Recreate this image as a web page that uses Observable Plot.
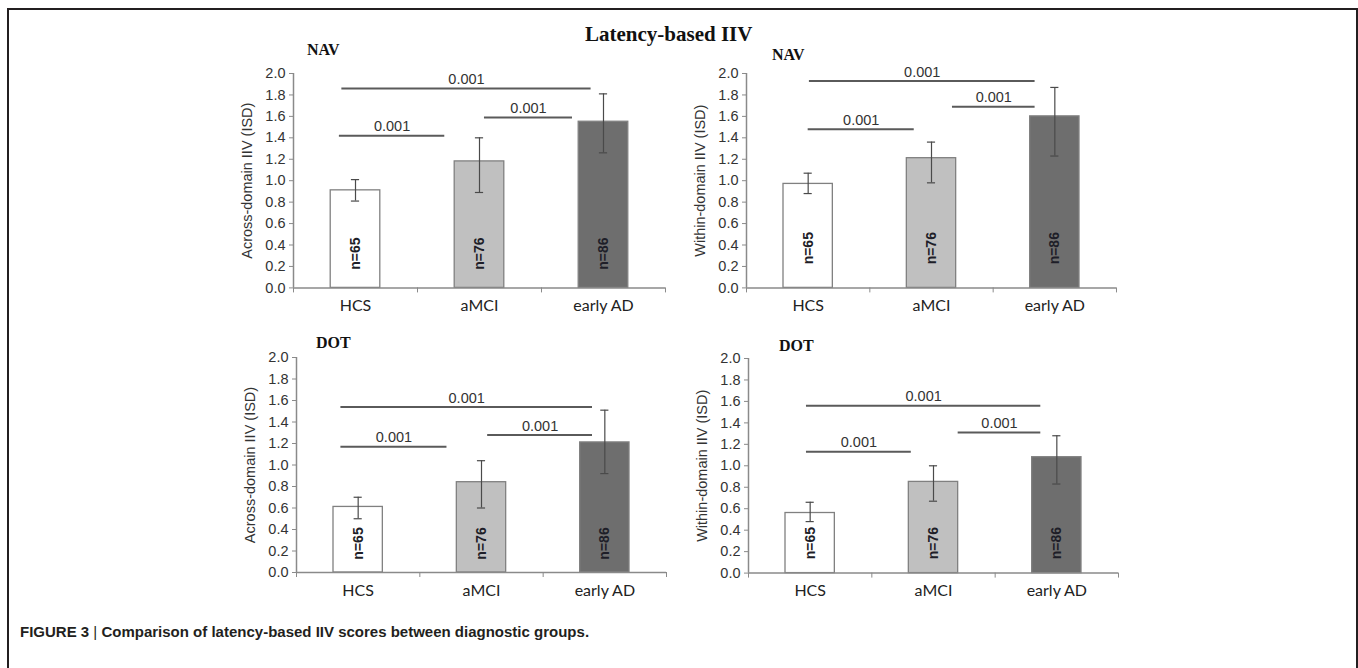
<!DOCTYPE html>
<html><head><meta charset="utf-8">
<script src="https://cdn.jsdelivr.net/npm/d3@7"></script>
<script src="https://cdn.jsdelivr.net/npm/@observablehq/plot@0.6"></script>
<style>
html,body{margin:0;padding:0;background:#fff;}
#root{position:relative;width:1358px;height:668px;overflow:hidden;background:#fff;}
.frame{position:absolute;left:7px;top:8px;width:1351px;height:720px;border:2px solid #231f20;box-sizing:border-box;}
.abs{position:absolute;white-space:nowrap;line-height:1;}
.ptitle{font-family:"Liberation Serif","Times New Roman",serif;font-weight:bold;font-size:16px;color:#111;}
.mtitle{font-family:"Liberation Serif","Times New Roman",serif;font-weight:bold;font-size:21px;color:#111;}
.caption{font-family:"Liberation Sans",Arial,sans-serif;font-weight:bold;font-size:15px;color:#231f20;}
.panel{position:absolute;}
</style>
</head><body>
<div id="root"><div class="frame"></div></div>
<script>
// ---- data ----
const groups = ["HCS", "aMCI", "early AD"];
const sampleSizes = ["n=65", "n=76", "n=86"];
const barFills = ["#ffffff", "#c0c0c0", "#6e6e6e"];
const yTicks = [0, 0.2, 0.4, 0.6, 0.8, 1.0, 1.2, 1.4, 1.6, 1.8, 2.0];
const pValueLabel = "0.001";

// NAV, across-domain
const navAcrossMean = [0.91, 1.18, 1.55];
const navAcrossLow  = [0.81, 0.89, 1.26];
const navAcrossHigh = [1.01, 1.40, 1.81];
const navAcrossBracketFrom = [-0.13, -0.11, 1.04];
const navAcrossBracketTo   = [0.72, 1.90, 1.75];
const navAcrossBracketY    = [1.42, 1.86, 1.59];

// NAV, within-domain
const navWithinMean = [0.97, 1.21, 1.60];
const navWithinLow  = [0.88, 0.98, 1.23];
const navWithinHigh = [1.07, 1.36, 1.87];
const navWithinBracketFrom = [0.00, 0.01, 1.17];
const navWithinBracketTo   = [0.86, 1.84, 1.84];
const navWithinBracketY    = [1.48, 1.93, 1.69];

// DOT, across-domain
const dotAcrossMean = [0.61, 0.84, 1.21];
const dotAcrossLow  = [0.50, 0.60, 0.92];
const dotAcrossHigh = [0.70, 1.04, 1.51];
const dotAcrossBracketFrom = [-0.14, -0.14, 1.05];
const dotAcrossBracketTo   = [0.72, 1.90, 1.90];
const dotAcrossBracketY    = [1.17, 1.54, 1.28];

// DOT, within-domain
const dotWithinMean = [0.56, 0.85, 1.08];
const dotWithinLow  = [0.48, 0.67, 0.83];
const dotWithinHigh = [0.66, 1.00, 1.28];
const dotWithinBracketFrom = [-0.03, -0.03, 1.20];
const dotWithinBracketTo   = [0.82, 1.87, 1.87];
const dotWithinBracketY    = [1.13, 1.56, 1.31];

// ---- layout ----
const panels = [
  {title: "NAV", yLabel: "Across-domain IIV (ISD)", mean: navAcrossMean, low: navAcrossLow, high: navAcrossHigh,
   bFrom: navAcrossBracketFrom, bTo: navAcrossBracketTo, bY: navAcrossBracketY,
   left: 293, right: 665, top: 73.3, bottom: 287.7, nY: 0.32, titleX: 307, titleTop: 41.6},
  {title: "NAV", yLabel: "Within-domain IIV (ISD)", mean: navWithinMean, low: navWithinLow, high: navWithinHigh,
   bFrom: navWithinBracketFrom, bTo: navWithinBracketTo, bY: navWithinBracketY,
   left: 746, right: 1116, top: 73.3, bottom: 287.7, nY: 0.37, titleX: 772, titleTop: 46.6},
  {title: "DOT", yLabel: "Across-domain IIV (ISD)", mean: dotAcrossMean, low: dotAcrossLow, high: dotAcrossHigh,
   bFrom: dotAcrossBracketFrom, bTo: dotAcrossBracketTo, bY: dotAcrossBracketY,
   left: 296, right: 666, top: 356.7, bottom: 571.7, nY: 0.27, titleX: 316, titleTop: 335},
  {title: "DOT", yLabel: "Within-domain IIV (ISD)", mean: dotWithinMean, low: dotWithinLow, high: dotWithinHigh,
   bFrom: dotWithinBracketFrom, bTo: dotWithinBracketTo, bY: dotWithinBracketY,
   left: 748, right: 1118, top: 357.7, bottom: 572.3, nY: 0.28, titleX: 779, titleTop: 338.3}
];

const root = document.getElementById("root");
const ML = 90, MT = 50, MR = 20, MB = 40;

for (const p of panels) {
  const rows = groups.map((g, i) => ({i, g, mean: p.mean[i], low: p.low[i], high: p.high[i], n: sampleSizes[i], fill: barFills[i], ny: p.nY}));
  const brackets = p.bY.map((y, k) => ({from: p.bFrom[k], to: p.bTo[k], y}));
  const W = (p.right - p.left) + ML + MR;
  const H = (p.bottom - p.top) + MT + MB;
  const chart = Plot.plot({
    width: W, height: H,
    marginLeft: ML, marginTop: MT, marginRight: MR, marginBottom: MB,
    x: {domain: [-0.5, 2.5], axis: null},
    y: {domain: [0, 2], axis: null},
    color: {type: "identity"},
    style: {background: "transparent", fontFamily: "'Liberation Sans', Arial, sans-serif", fontSize: "14px", overflow: "visible"},
    marks: [
      Plot.axisY({ticks: yTicks, tickFormat: d => d.toFixed(1), tickSize: 4, tickPadding: 4,
        stroke: "#8a8a8a", fill: "#333", fontSize: 14.5,
        label: p.yLabel, labelAnchor: "center", labelArrow: "none", labelOffset: 52}),
      Plot.axisX({ticks: [-0.5, 0.5, 1.5, 2.5], tickSize: 5, tickFormat: () => "", stroke: "#8a8a8a", label: null}),
      Plot.axisX({ticks: [0, 1, 2], tickSize: 0, tickPadding: 12, tickFormat: i => groups[i],
        fill: "#222", fontSize: 16, fontFamily: "Lato, 'Open Sans', sans-serif", label: null}),
      Plot.rect(rows, {x1: d => d.i - 0.2, x2: d => d.i + 0.2, y1: 0, y2: "mean", fill: "fill", stroke: "#808080", strokeWidth: 1.3}),
      Plot.ruleX(rows, {x: "i", y1: "low", y2: "high", stroke: "#4a4a4a", strokeWidth: 1.2}),
      Plot.ruleY(rows, {y: "low", x1: d => d.i - 0.033, x2: d => d.i + 0.033, stroke: "#4a4a4a", strokeWidth: 1.2}),
      Plot.ruleY(rows, {y: "high", x1: d => d.i - 0.033, x2: d => d.i + 0.033, stroke: "#4a4a4a", strokeWidth: 1.2}),
      Plot.ruleX([-0.5], {stroke: "#8a8a8a", strokeWidth: 1.5}),
      Plot.ruleY([0], {stroke: "#8a8a8a", strokeWidth: 1.5}),
      Plot.text(rows, {x: "i", y: "ny", text: "n", rotate: -90, fontWeight: "bold", fontSize: 14, fill: "#1e1e28"}),
      Plot.ruleY(brackets, {y: "y", x1: "from", x2: "to", stroke: "#5a5a5a", strokeWidth: 2}),
      Plot.text(brackets, {x: d => (d.from + d.to) / 2, y: "y", text: () => pValueLabel, dy: -9, fontSize: 14.5, fill: "#333"})
    ]
  });
  const wrap = document.createElement("div");
  wrap.className = "panel";
  wrap.style.left = (p.left - ML) + "px";
  wrap.style.top = (p.top - MT) + "px";
  wrap.appendChild(chart);
  root.appendChild(wrap);

  const t = document.createElement("div");
  t.className = "abs ptitle";
  t.style.left = p.titleX + "px";
  t.style.top = p.titleTop + "px";
  t.textContent = p.title;
  root.appendChild(t);
}

const mt = document.createElement("div");
mt.className = "abs mtitle";
mt.style.left = "585px";
mt.style.top = "24px";
mt.textContent = "Latency-based IIV";
root.appendChild(mt);

const cap = document.createElement("div");
cap.className = "abs caption";
cap.style.left = "20px";
cap.style.top = "624px";
cap.innerHTML = "FIGURE 3 <span style='font-weight:normal'>|</span> Comparison of latency-based IIV scores between diagnostic groups.";
root.appendChild(cap);
</script>
</body></html>
